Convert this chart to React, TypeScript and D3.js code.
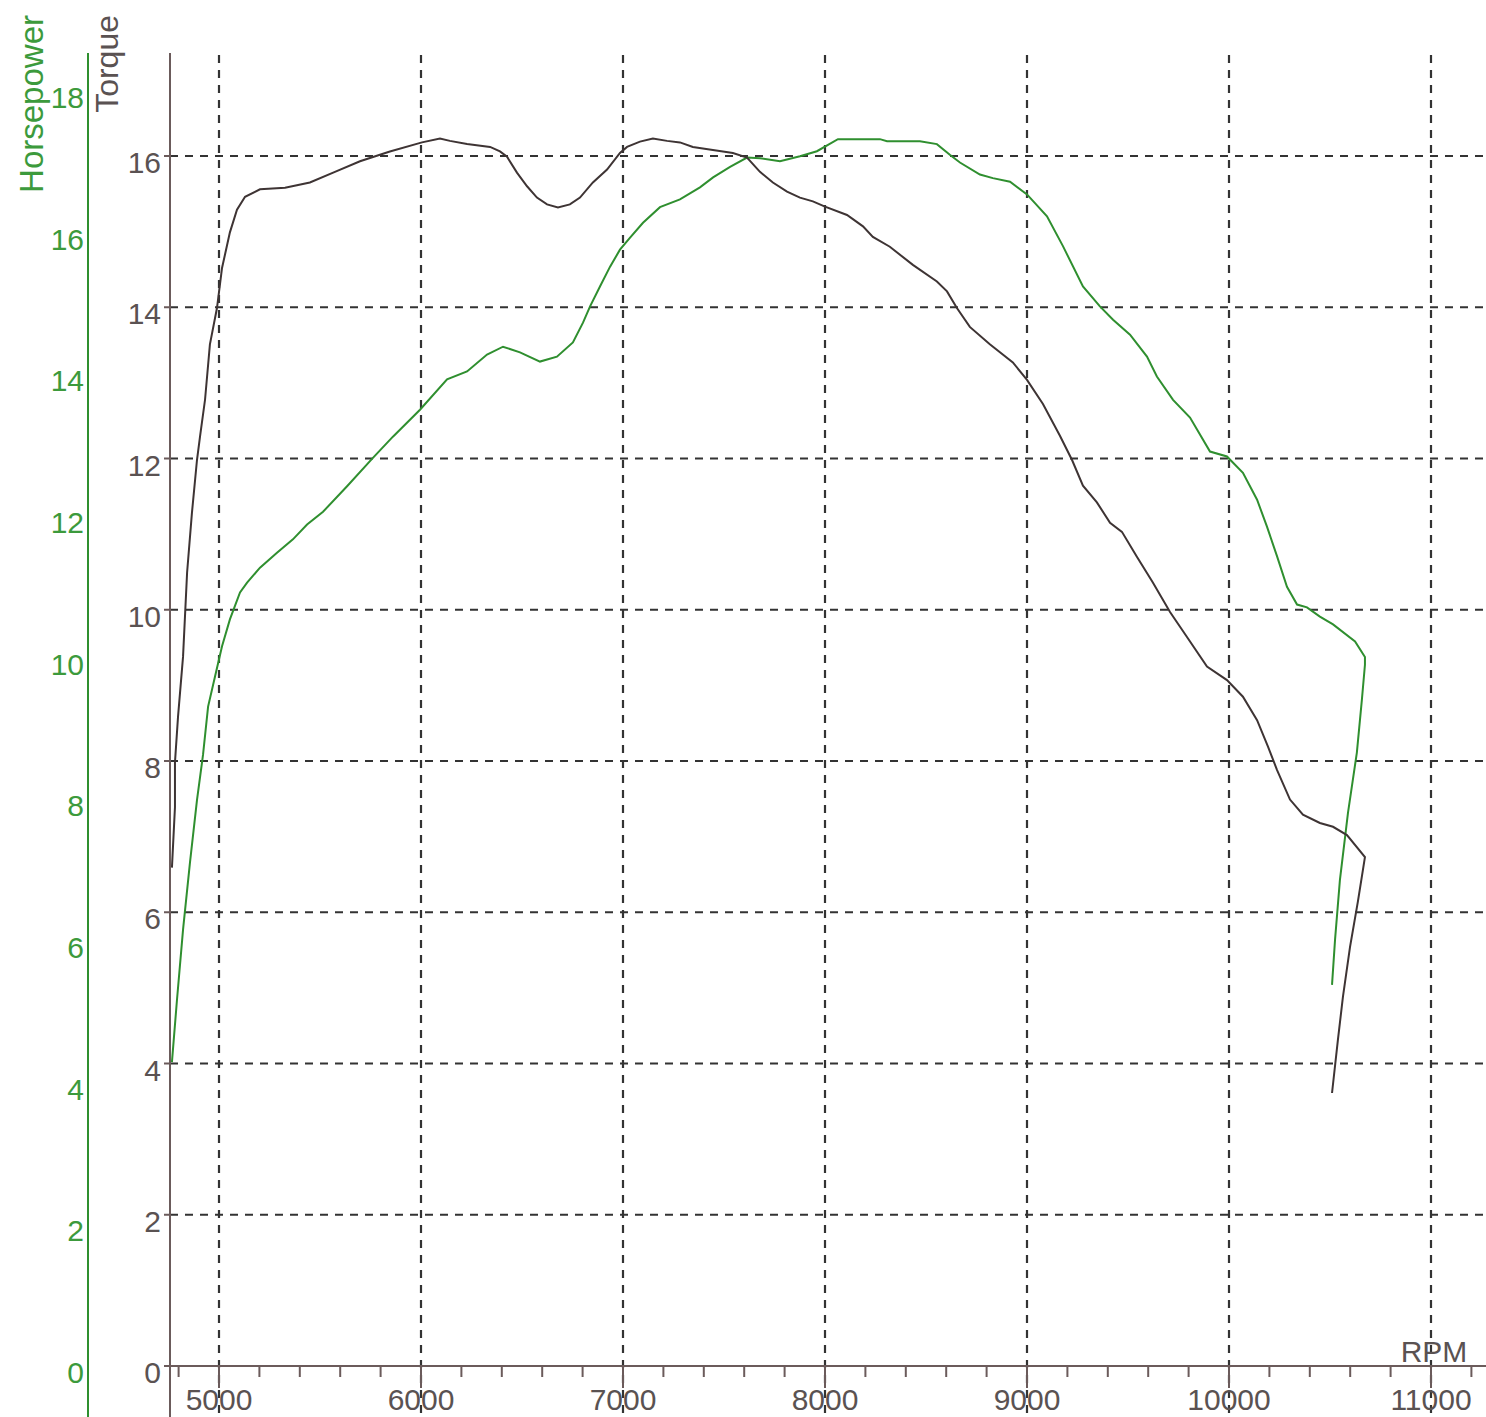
import React from "react";
import * as d3 from "d3";

const torqueRpm = [4767, 4782, 4782, 4797, 4822, 4842, 4866, 4891, 4906, 4931, 4955, 4990, 5015, 5054, 5089, 5129, 5203, 5327, 5450, 5574, 5698, 5846, 6005, 6094, 6143, 6228, 6342, 6391, 6426, 6475, 6525, 6574, 6624, 6678, 6737, 6787, 6851, 6921, 6985, 7020, 7084, 7148, 7218, 7282, 7346, 7445, 7544, 7614, 7678, 7742, 7812, 7876, 7940, 8000, 8109, 8188, 8237, 8321, 8435, 8554, 8604, 8653, 8717, 8816, 8930, 9000, 9079, 9163, 9223, 9277, 9346, 9411, 9470, 9544, 9623, 9708, 9792, 9891, 9990, 10069, 10139, 10193, 10238, 10302, 10366, 10450, 10515, 10584, 10673, 10663, 10638, 10599, 10564, 10539, 10510];
const torqueValues = [6.59, 7.39, 7.98, 8.58, 9.38, 10.49, 11.28, 11.98, 12.29, 12.78, 13.51, 13.99, 14.52, 14.99, 15.29, 15.46, 15.56, 15.58, 15.65, 15.79, 15.93, 16.06, 16.18, 16.23, 16.2, 16.16, 16.12, 16.06, 15.99, 15.78, 15.6, 15.45, 15.36, 15.32, 15.36, 15.45, 15.65, 15.82, 16.04, 16.12, 16.19, 16.23, 16.2, 16.18, 16.12, 16.08, 16.04, 15.98, 15.79, 15.65, 15.53, 15.45, 15.4, 15.33, 15.22, 15.07, 14.93, 14.8, 14.56, 14.34, 14.21, 13.99, 13.74, 13.51, 13.27, 13.04, 12.72, 12.3, 11.98, 11.64, 11.42, 11.15, 11.03, 10.7, 10.36, 9.97, 9.64, 9.25, 9.07, 8.85, 8.54, 8.19, 7.88, 7.49, 7.29, 7.18, 7.13, 7.02, 6.73, 6.56, 6.14, 5.54, 4.88, 4.31, 3.61];

const hpRpm = [4767, 4792, 4822, 4856, 4891, 4921, 4946, 4980, 5015, 5054, 5104, 5139, 5203, 5287, 5366, 5436, 5515, 5634, 5762, 5861, 5995, 6129, 6228, 6327, 6406, 6490, 6589, 6673, 6752, 6802, 6837, 6886, 6936, 6985, 7035, 7099, 7183, 7282, 7381, 7446, 7530, 7614, 7678, 7777, 7876, 7960, 8064, 8272, 8307, 8470, 8554, 8618, 8668, 8767, 8831, 8916, 9000, 9099, 9178, 9277, 9361, 9426, 9510, 9594, 9643, 9723, 9807, 9906, 9990, 10069, 10139, 10188, 10238, 10287, 10337, 10386, 10450, 10515, 10624, 10673, 10673, 10658, 10633, 10589, 10549, 10525, 10510];
const hpValues = [4.29, 5.17, 6.16, 7.1, 7.99, 8.63, 9.31, 9.73, 10.16, 10.54, 10.92, 11.06, 11.27, 11.48, 11.67, 11.88, 12.06, 12.42, 12.82, 13.12, 13.5, 13.93, 14.04, 14.28, 14.39, 14.31, 14.18, 14.25, 14.45, 14.73, 14.96, 15.24, 15.52, 15.76, 15.93, 16.14, 16.36, 16.47, 16.64, 16.78, 16.93, 17.06, 17.05, 17.01, 17.08, 17.15, 17.32, 17.32, 17.29, 17.29, 17.25, 17.1, 16.99, 16.82, 16.77, 16.72, 16.54, 16.23, 15.81, 15.24, 14.96, 14.77, 14.56, 14.25, 13.97, 13.64, 13.39, 12.91, 12.84, 12.61, 12.23, 11.85, 11.43, 11.0, 10.75, 10.71, 10.58, 10.47, 10.23, 10.01, 9.9, 9.41, 8.66, 7.81, 6.86, 6.02, 5.38];

const rpmTicks = [5000, 6000, 7000, 8000, 9000, 10000, 11000];
const torqueTicks = [0, 2, 4, 6, 8, 10, 12, 14, 16];
const hpTicks = [0, 2, 4, 6, 8, 10, 12, 14, 16, 18];

const W = 1486;
const H = 1417;
const FONT = "'Liberation Sans', Arial, sans-serif";
const AXIS_COLOR = "#6b5b5b";
const TEXT_COLOR = "#5a5252";
const GREEN = "#2f8f2f";
const GREEN_TEXT = "#3c9a3c";
const TORQUE_LINE = "#3e3434";
const GRID = "#333333";

export default function App() {
  const x = d3.scaleLinear().domain([5000, 11000]).range([219, 1431]);
  const yT = d3.scaleLinear().domain([0, 16]).range([1366, 156]);
  const yH = d3.scaleLinear().domain([0, 18]).range([1366, 91]);

  const x0 = 170;
  const yBase = yT(0);
  const axisTop = 53;

  const torqueData = torqueRpm.map((r, i) => [r, torqueValues[i]] as [number, number]);
  const hpData = hpRpm.map((r, i) => [r, hpValues[i]] as [number, number]);

  const torqueLine = d3
    .line<[number, number]>()
    .x((d) => x(d[0]))
    .y((d) => yT(d[1]));
  const hpLine = d3
    .line<[number, number]>()
    .x((d) => x(d[0]))
    .y((d) => yH(d[1]));

  const minorTicks = d3.range(4800, 11201, 200).filter((v) => v % 1000 !== 0);

  return (
    <svg
      width={W}
      height={H}
      style={{ position: "absolute", left: 0, top: 0, background: "#fff" }}
      fontFamily={FONT}
    >
      <rect x={0} y={0} width={W} height={H} fill="#fff" />
      {/* horizontal grid */}
      {torqueTicks
        .filter((t) => t > 0)
        .map((t) => (
          <line
            key={"hg" + t}
            x1={x0}
            x2={W}
            y1={yT(t)}
            y2={yT(t)}
            stroke={GRID}
            strokeWidth={2.2}
            strokeDasharray="8,7"
          />
        ))}
      {/* vertical grid */}
      {rpmTicks.map((t) => (
        <line
          key={"vg" + t}
          x1={x(t)}
          x2={x(t)}
          y1={axisTop + 2}
          y2={H}
          stroke={GRID}
          strokeWidth={2.2}
          strokeDasharray="8,7"
        />
      ))}

      {/* curves */}
      <path d={hpLine(hpData) || ""} fill="none" stroke={GREEN} strokeWidth={2} />
      <path d={torqueLine(torqueData) || ""} fill="none" stroke={TORQUE_LINE} strokeWidth={2} />

      {/* x axis */}
      <line x1={x0} x2={W} y1={yBase} y2={yBase} stroke={AXIS_COLOR} strokeWidth={2} />
      {minorTicks.map((t) => (
        <line key={"mt" + t} x1={x(t)} x2={x(t)} y1={yBase} y2={yBase + 11} stroke={AXIS_COLOR} strokeWidth={2} />
      ))}
      {rpmTicks.map((t) => (
        <g key={"xt" + t}>
          <line x1={x(t)} x2={x(t)} y1={yBase} y2={yBase + 22} stroke={AXIS_COLOR} strokeWidth={2} />
          <text x={x(t)} y={yBase + 44} textAnchor="middle" fontSize={30} fill={TEXT_COLOR}>
            {t}
          </text>
        </g>
      ))}
      <text x={1434} y={1362} textAnchor="middle" fontSize={30} fill={TEXT_COLOR}>
        RPM
      </text>

      {/* torque axis */}
      <line x1={x0} x2={x0} y1={axisTop} y2={H} stroke={AXIS_COLOR} strokeWidth={2} />
      {torqueTicks.map((t) => (
        <g key={"yt" + t}>
          <line x1={x0 - 6} x2={x0} y1={yT(t)} y2={yT(t)} stroke={AXIS_COLOR} strokeWidth={2} />
          <text x={161} y={yT(t) + 17} textAnchor="end" fontSize={30} fill={TEXT_COLOR}>
            {t}
          </text>
        </g>
      ))}
      <text
        transform="translate(118,15) rotate(-90)"
        textAnchor="end"
        fontSize={32}
        fill={TEXT_COLOR}
      >
        Torque
      </text>

      {/* horsepower axis */}
      <line x1={88} x2={88} y1={axisTop} y2={H} stroke={GREEN} strokeWidth={2} />
      {hpTicks.map((t) => (
        <text key={"hp" + t} x={84} y={yH(t) + 17} textAnchor="end" fontSize={30} fill={GREEN_TEXT}>
          {t}
        </text>
      ))}
      <text
        transform="translate(43,15) rotate(-90)"
        textAnchor="end"
        fontSize={33}
        fill={GREEN_TEXT}
      >
        Horsepower
      </text>
    </svg>
  );
}
